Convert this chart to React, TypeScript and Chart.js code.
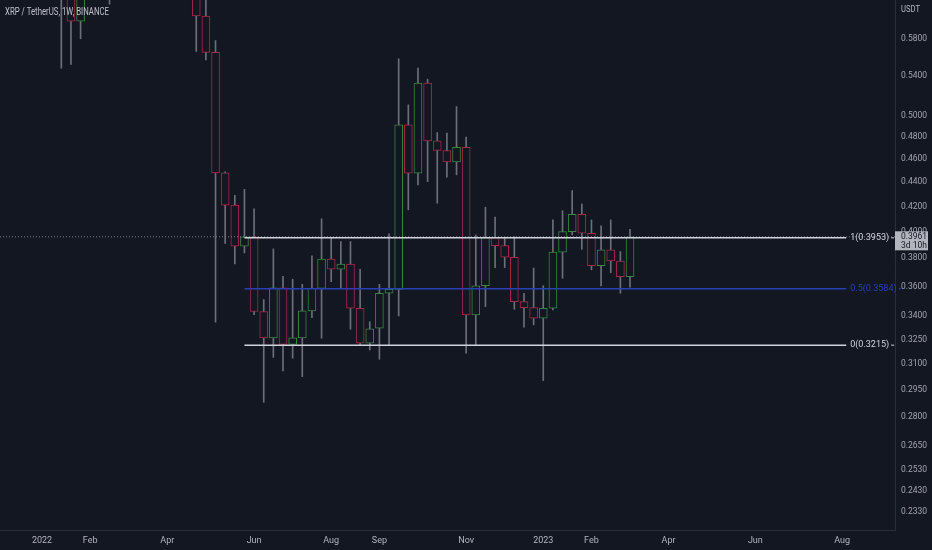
import React, { useEffect, useRef } from "react";
import { Chart, registerables } from "chart.js";

Chart.register(...registerables);

// ---------- data ----------
const BASE_DATE = "2022-01-03";

const candleDates = [
  "2022-01-17", "2022-01-24", "2022-01-31", "2022-02-21",
  "2022-04-25", "2022-05-02", "2022-05-09", "2022-05-16", "2022-05-23", "2022-05-30",
  "2022-06-06", "2022-06-13", "2022-06-20", "2022-06-27", "2022-07-04", "2022-07-11",
  "2022-07-18", "2022-07-25", "2022-08-01", "2022-08-08", "2022-08-15", "2022-08-22",
  "2022-08-29", "2022-09-05", "2022-09-12", "2022-09-19", "2022-09-26", "2022-10-03",
  "2022-10-10", "2022-10-17", "2022-10-24", "2022-10-31", "2022-11-07", "2022-11-14",
  "2022-11-21", "2022-11-28", "2022-12-05", "2022-12-12", "2022-12-19", "2022-12-26",
  "2023-01-02", "2023-01-09", "2023-01-16", "2023-01-23", "2023-01-30", "2023-02-06",
  "2023-02-13", "2023-02-20", "2023-02-27", "2023-03-06",
];

const opens = [
  0.780, 0.640, 0.600, 0.760,
  0.660, 0.606, 0.565, 0.448, 0.421, 0.389,
  0.396, 0.343, 0.326, 0.359, 0.322, 0.326,
  0.3434, 0.3587, 0.3794, 0.3721, 0.3758, 0.3452,
  0.3227, 0.3322, 0.3553, 0.3580, 0.4914, 0.4477,
  0.5325, 0.4765, 0.4677, 0.4576, 0.4707, 0.3408,
  0.3605, 0.3955, 0.3894, 0.3808, 0.3496, 0.3456,
  0.3386, 0.3452, 0.3846, 0.4001, 0.4137, 0.3988,
  0.3747, 0.3862, 0.3781, 0.3668,
];

const highs = [
  0.790, 0.660, 0.660, 0.800,
  0.700, 0.650, 0.578, 0.449, 0.429, 0.434,
  0.418, 0.351, 0.387, 0.367, 0.365, 0.3615,
  0.3818, 0.410, 0.395, 0.3925, 0.3925, 0.3721,
  0.3364, 0.3615, 0.3983, 0.5580, 0.5107, 0.5481,
  0.5366, 0.4842, 0.4836, 0.5090, 0.4799, 0.3976,
  0.4193, 0.4114, 0.3958, 0.3962, 0.3553, 0.3729,
  0.3605, 0.4092, 0.4166, 0.4330, 0.4220, 0.4092,
  0.4045, 0.4092, 0.3850, 0.4019,
];

const lows = [
  0.548, 0.552, 0.580, 0.620,
  0.566, 0.557, 0.336, 0.391, 0.376, 0.384,
  0.341, 0.288, 0.314, 0.306, 0.3135, 0.3026,
  0.339, 0.3258, 0.3633, 0.3587, 0.3315, 0.3217,
  0.3185, 0.3129, 0.3217, 0.3401, 0.4172, 0.4377,
  0.4405, 0.4226, 0.4443, 0.4463, 0.3165, 0.3217,
  0.3463, 0.3733, 0.3733, 0.3445, 0.3328, 0.3343,
  0.3003, 0.3440, 0.3657, 0.3976, 0.3867, 0.3717,
  0.3603, 0.3697, 0.3553, 0.3594,
];

const closes = [
  0.640, 0.600, 0.640, 0.700,
  0.606, 0.565, 0.448, 0.421, 0.389, 0.396,
  0.343, 0.326, 0.359, 0.322, 0.326, 0.3434,
  0.3587, 0.3794, 0.3721, 0.3758, 0.3452, 0.3227,
  0.3317, 0.3553, 0.3580, 0.4914, 0.4477, 0.5325,
  0.4765, 0.4677, 0.4576, 0.4707, 0.3408, 0.3605,
  0.3955, 0.3894, 0.3808, 0.3496, 0.3456, 0.3386,
  0.3452, 0.3846, 0.4001, 0.4137, 0.3988, 0.3747,
  0.3862, 0.3781, 0.3668, 0.3961,
];

const xTickDates = [
  "2022-01-03", "2022-02-07", "2022-04-04", "2022-06-06", "2022-08-01", "2022-09-05",
  "2022-11-07", "2023-01-02", "2023-02-06", "2023-04-03", "2023-06-05", "2023-08-07",
];
const xTickLabels = ["2022", "Feb", "Apr", "Jun", "Aug", "Sep", "Nov", "2023", "Feb", "Apr", "Jun", "Aug"];

const yTickValues = [
  0.58, 0.54, 0.5, 0.48, 0.46, 0.44, 0.42, 0.4, 0.38, 0.36, 0.34, 0.325,
  0.31, 0.295, 0.28, 0.265, 0.253, 0.243, 0.233,
];

const fibLevels = [0.3953, 0.3584, 0.3215];
const fibLabels = ["1(0.3953)", "0.5(0.3584)", "0(0.3215)"];
const fibStartDate = "2022-05-30";
const fibEndDate = "2023-08-10";

const lastPrice = 0.3961;
const countdownText = "3d 10h";
const titleText = "XRP / TetherUS, 1W, BINANCE";
const currencyText = "USDT";

const X_MIN = -4.36;
const X_MAX = 88.49;
const Y_MIN = 0.2252;
const Y_MAX = 0.625;

// ---------- styles ----------
const BG = "#131722";
const UP = "#3a8544";
const DOWN = "#a8284a";
const WICK = "#6c6f79";
const AXIS_LINE = "#2a2e39";
const TEXT = "#b2b5be";
const fibColors = ["#d1d4dc", "#2741b5", "#d1d4dc"];
const FONT = "Roboto";

const weekOf = (d: string) => (Date.parse(d) - Date.parse(BASE_DATE)) / (7 * 86400000);

export default function App() {
  const ref = useRef<HTMLCanvasElement>(null);

  useEffect(() => {
    const xs = candleDates.map(weekOf);
    const bodyData = xs.map((x, i) => ({ x, y: [opens[i], closes[i]] }));
    const wickData = xs.map((x, i) => ({ x, y: [lows[i], highs[i]] }));
    const bodyColors = xs.map((_, i) => (closes[i] >= opens[i] ? UP : DOWN));
    const fx0 = weekOf(fibStartDate);
    const fx1 = weekOf(fibEndDate);

    const overlay = {
      id: "overlay",
      afterDatasetsDraw(chart: any) {
        const { ctx, scales } = chart;
        const x = scales.x;
        const y = scales.y;
        ctx.save();
        ctx.font = `9px ${FONT}`;
        ctx.textBaseline = "middle";
        ctx.textAlign = "left";
        fibLevels.forEach((lv, i) => {
          const px = x.getPixelForValue(fx1) + 4;
          const py = y.getPixelForValue(lv);
          ctx.fillStyle = fibColors[i];
          ctx.fillText(fibLabels[i], px, py);
          const w = ctx.measureText(fibLabels[i]).width;
          ctx.fillRect(px + w + 2, py - 0.5, 3, 1);
        });
        ctx.restore();
      },
      afterDraw(chart: any) {
        const { ctx, scales, chartArea } = chart;
        const y = scales.y;
        ctx.save();
        ctx.textBaseline = "middle";
        ctx.textAlign = "left";
        ctx.font = `10px ${FONT}`;
        ctx.fillStyle = "#bfc2ca";
        ctx.fillText(titleText, 5, 12, 104);
        ctx.font = `9px ${FONT}`;
        ctx.fillStyle = TEXT;
        ctx.fillText(currencyText, chartArea.right + 6, 10, 19);
        // price box
        const py = y.getPixelForValue(lastPrice);
        ctx.fillStyle = "#b2b5be";
        ctx.fillRect(chartArea.right, py - 5.5, 33, 19);
        ctx.font = `8.5px ${FONT}`;
        ctx.fillStyle = BG;
        ctx.fillText(lastPrice.toFixed(4), chartArea.right + 6, py);
        ctx.fillText(countdownText, chartArea.right + 6, py + 9);
        ctx.restore();
      },
    };

    const fibLine = (i: number) =>
      ({
        type: "line",
        data: [
          { x: fx0, y: fibLevels[i] },
          { x: fx1, y: fibLevels[i] },
        ],
        borderColor: fibColors[i],
        borderWidth: 1.5,
        pointRadius: 0,
        order: 0,
      }) as any;

    const chart = new Chart(ref.current!, {
      type: "bar",
      data: {
        datasets: [
          fibLine(0),
          fibLine(1),
          fibLine(2),
          {
            type: "line",
            data: [
              { x: X_MIN, y: lastPrice },
              { x: X_MAX, y: lastPrice },
            ],
            borderColor: "#7c7f89",
            borderWidth: 1,
            borderDash: [1, 2],
            pointRadius: 0,
            order: 1,
          } as any,
          {
            type: "bar",
            data: bodyData as any,
            backgroundColor: BG,
            borderColor: bodyColors,
            borderWidth: 1,
            borderSkipped: false,
            barThickness: 8,
            grouped: false,
            order: 2,
          } as any,
          {
            type: "bar",
            data: wickData as any,
            backgroundColor: WICK,
            borderWidth: 0,
            barThickness: 1,
            grouped: false,
            order: 3,
          } as any,
        ],
      },
      options: {
        animation: false,
        responsive: true,
        maintainAspectRatio: false,
        layout: { padding: 0 },
        plugins: { legend: { display: false }, tooltip: { enabled: false } },
        scales: {
          x: {
            type: "linear",
            min: X_MIN,
            max: X_MAX,
            offset: false,
            bounds: "data",
            grid: { display: false, drawTicks: false, offset: false },
            border: { display: true, color: AXIS_LINE },
            afterFit: (s: any) => {
              s.height = 20;
              s.paddingLeft = 0;
              s.paddingRight = 0;
            },
            afterBuildTicks: (s: any) => {
              s.ticks = xTickDates.map((d) => ({ value: weekOf(d) }));
            },
            ticks: {
              autoSkip: false,
              maxRotation: 0,
              padding: 5,
              color: TEXT,
              font: { family: FONT, size: 9 },
              callback: (_v: any, i: number) => xTickLabels[i],
            },
          },
          y: {
            type: "logarithmic",
            position: "right",
            min: Y_MIN,
            max: Y_MAX,
            bounds: "data",
            grid: { display: false, drawTicks: false },
            border: { display: true, color: AXIS_LINE },
            afterFit: (s: any) => {
              s.width = 37;
              s.paddingTop = 0;
              s.paddingBottom = 0;
            },
            afterBuildTicks: (s: any) => {
              s.ticks = yTickValues.map((v) => ({ value: v }));
            },
            ticks: {
              autoSkip: false,
              padding: 6,
              color: "#a3a6af",
              font: { family: FONT, size: 8.5 },
              callback: (v: any) => Number(v).toFixed(4),
            },
          },
        },
      },
      plugins: [overlay],
    });
    return () => chart.destroy();
  }, []);

  return (
    <div style={{ position: "fixed", left: 0, top: 0, width: 932, height: 550, background: BG }}>
      <canvas ref={ref} />
    </div>
  );
}
